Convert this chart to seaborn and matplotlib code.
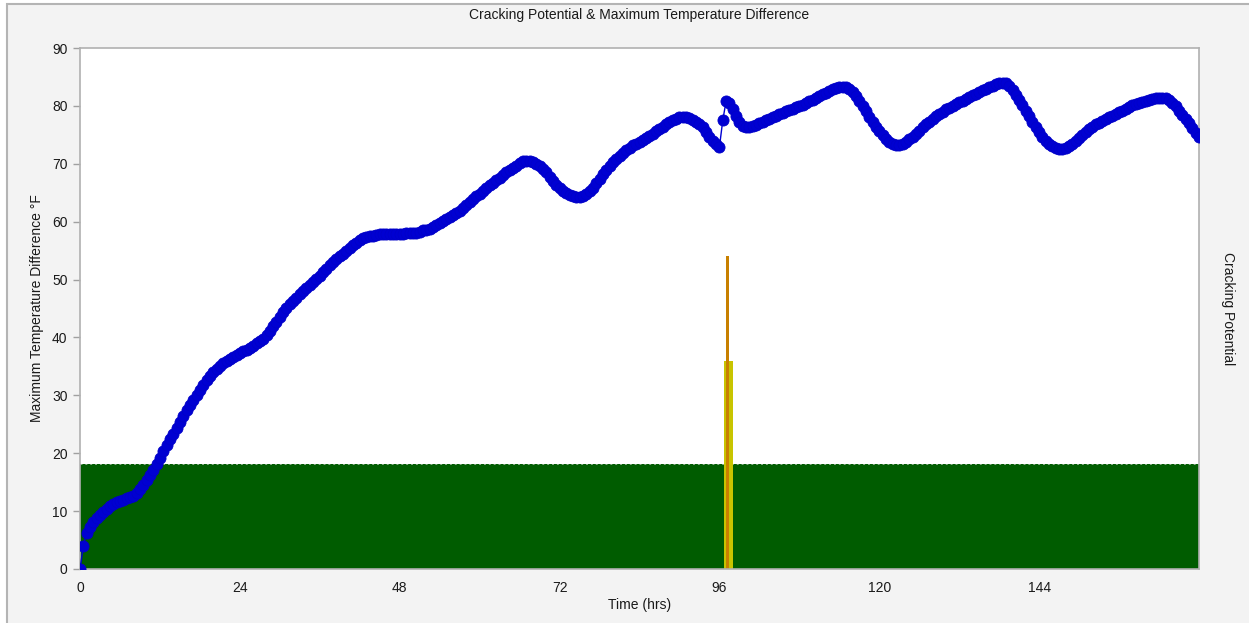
import numpy as np
import pandas as pd
import matplotlib
matplotlib.use("Agg")
import matplotlib.pyplot as plt
from matplotlib.patches import Rectangle
import seaborn as sns

# Maximum temperature difference (°F), sampled every half hour from 0 to 168 h
hours = np.arange(0, 168.5, 0.5)
max_temp_diff = [
    0.0, 4.0, 6.2, 7.3, 8.2, 8.8, 9.3, 9.8, 10.3, 10.8, 11.2, 11.5,
    11.8, 12.0, 12.2, 12.4, 12.6, 13.1, 13.8, 14.5, 15.3, 16.2, 17.1, 18.1,
    19.2, 20.4, 21.5, 22.5, 23.4, 24.4, 25.4, 26.4, 27.4, 28.3, 29.2, 30.1,
    31.0, 31.8, 32.6, 33.3, 34.0, 34.6, 35.1, 35.5, 35.9, 36.3, 36.6, 37.0,
    37.3, 37.6, 37.9, 38.2, 38.6, 39.0, 39.4, 39.8, 40.4, 41.1, 41.9, 42.7,
    43.6, 44.4, 45.1, 45.7, 46.3, 46.9, 47.5, 48.0, 48.5, 49.0, 49.6, 50.1,
    50.7, 51.3, 51.9, 52.5, 53.0, 53.5, 54.0, 54.5, 55.0, 55.5, 56.0, 56.4,
    56.8, 57.1, 57.3, 57.5, 57.6, 57.7, 57.8, 57.8, 57.9, 57.9, 57.9, 57.9,
    57.9, 57.9, 58.0, 58.0, 58.0, 58.1, 58.3, 58.5, 58.6, 58.8, 59.1, 59.4,
    59.8, 60.1, 60.4, 60.8, 61.1, 61.5, 61.9, 62.4, 62.9, 63.4, 63.9, 64.4,
    64.8, 65.3, 65.8, 66.3, 66.7, 67.2, 67.6, 68.1, 68.5, 68.9, 69.3, 69.7,
    70.1, 70.4, 70.5, 70.5, 70.3, 70.0, 69.6, 69.1, 68.5, 67.8, 67.1, 66.4,
    65.8, 65.3, 64.9, 64.6, 64.4, 64.3, 64.3, 64.5, 64.8, 65.3, 65.9, 66.6,
    67.4, 68.2, 69.0, 69.7, 70.3, 70.9, 71.4, 71.9, 72.4, 72.8, 73.2, 73.5,
    73.8, 74.1, 74.4, 74.8, 75.2, 75.6, 76.0, 76.4, 76.8, 77.2, 77.5, 77.8,
    78.0, 78.1, 78.1, 77.9, 77.6, 77.3, 76.9, 76.3, 75.5, 74.7, 74.0, 73.4,
    72.9, 77.5, 80.8, 80.5, 79.4, 78.2, 77.2, 76.6, 76.4, 76.4, 76.5, 76.7,
    77.0, 77.3, 77.5, 77.8, 78.0, 78.3, 78.6, 78.8, 79.1, 79.3, 79.5, 79.8,
    80.0, 80.2, 80.5, 80.8, 81.1, 81.4, 81.7, 82.0, 82.3, 82.6, 82.9, 83.1,
    83.3, 83.3, 83.2, 82.9, 82.4, 81.7, 80.9, 80.0, 79.1, 78.1, 77.2, 76.4,
    75.6, 74.9, 74.3, 73.8, 73.5, 73.3, 73.3, 73.4, 73.7, 74.2, 74.7, 75.2,
    75.7, 76.3, 76.8, 77.3, 77.8, 78.2, 78.6, 79.0, 79.4, 79.7, 80.0, 80.3,
    80.6, 80.9, 81.2, 81.5, 81.8, 82.1, 82.4, 82.7, 83.0, 83.3, 83.5, 83.7,
    83.9, 84.0, 83.9, 83.5, 82.8, 81.9, 81.0, 80.1, 79.1, 78.2, 77.3, 76.4,
    75.5, 74.7, 74.0, 73.4, 73.0, 72.7, 72.6, 72.6, 72.8, 73.1, 73.5, 74.0,
    74.5, 75.0, 75.5, 76.0, 76.4, 76.8, 77.1, 77.4, 77.7, 78.0, 78.3, 78.6,
    78.9, 79.2, 79.5, 79.8, 80.1, 80.3, 80.5, 80.7, 80.9, 81.1, 81.2, 81.3,
    81.4, 81.4, 81.3, 81.0, 80.5, 79.9, 79.2, 78.5, 77.8, 77.0, 76.2, 75.4,
    74.7,
]

# Allowable temperature difference band
allowable_diff = 18.1

# Cracking potential spikes: (time, height, width)
crack_times = [97.4, 97.2]
crack_heights = [35.9, 54.0]
crack_widths = [1.35, 0.4]
crack_colors = ["#c8c400", "#c88000"]

x_ticks = list(range(0, 169, 12))
x_tick_labels = [str(t) if t % 24 == 0 and t < 168 else "" for t in x_ticks]
y_ticks = list(range(0, 91, 10))

df = pd.DataFrame({"hours": hours, "diff": max_temp_diff})

sns.set_style("white")
plt.rcParams["font.family"] = ["Liberation Sans", "DejaVu Sans"]

fig = plt.figure(figsize=(12.49, 6.23), dpi=100, facecolor="white")
fig.patches.append(Rectangle((7 / 1249, -0.05), 1.1, 1 - 3.5 / 623 + 0.05,
                             transform=fig.transFigure, facecolor="#f3f3f3",
                             edgecolor="#b4b4b4", linewidth=1.5, zorder=-10))

ax = fig.add_axes([80 / 1249, 54 / 623, 1119 / 1249, 521 / 623])
ax.set_facecolor("white")

ax.fill_between([0, 168], 0, allowable_diff, color="#005c00", linewidth=0, zorder=1)
ax.plot([0, 168], [allowable_diff, allowable_diff], color="#8fae8f",
        linestyle=(0, (2, 3)), linewidth=0.7, zorder=1.5)

for t, h, w, c in zip(crack_times, crack_heights, crack_widths, crack_colors):
    ax.bar(t, h, width=w, color=c, linewidth=0, zorder=2)

sns.lineplot(data=df, x="hours", y="diff", ax=ax, color="#0000d2",
             linewidth=1.0, marker="o", markersize=8, markeredgewidth=0.6,
             markeredgecolor="#0000c8", zorder=3, clip_on=True)

ax.set_xlim(0, 168)
ax.set_ylim(0, 90)
ax.set_xticks(x_ticks)
ax.set_xticklabels(x_tick_labels)
ax.set_yticks(y_ticks)
ax.tick_params(axis="both", which="major", direction="out", length=5,
               width=1, color="#a0a0a0", labelsize=10, labelcolor="#1a1a1a",
               pad=4)

for side in ["left", "right", "top", "bottom"]:
    ax.spines[side].set_visible(True)
    ax.spines[side].set_color("#b0b0b0")
    ax.spines[side].set_linewidth(1.2)

ax.set_xlabel("Time (hrs)", fontsize=10, color="#1a1a1a", labelpad=2)
ax.set_ylabel("Maximum Temperature Difference °F", fontsize=10,
              color="#1a1a1a", labelpad=6)

fig.text(639.5 / 1249, 1 - 15 / 623,
         "Cracking Potential & Maximum Temperature Difference",
         fontsize=10, color="#1a1a1a", ha="center", va="center")

ax2 = ax.twinx()
ax2.set_yticks([])
ax2.set_ylabel("Cracking Potential", rotation=-90, fontsize=10,
               color="#1a1a1a", labelpad=26)
for side in ["left", "right", "top", "bottom"]:
    ax2.spines[side].set_visible(False)

fig.savefig("out.png", dpi=100, facecolor=fig.get_facecolor())
